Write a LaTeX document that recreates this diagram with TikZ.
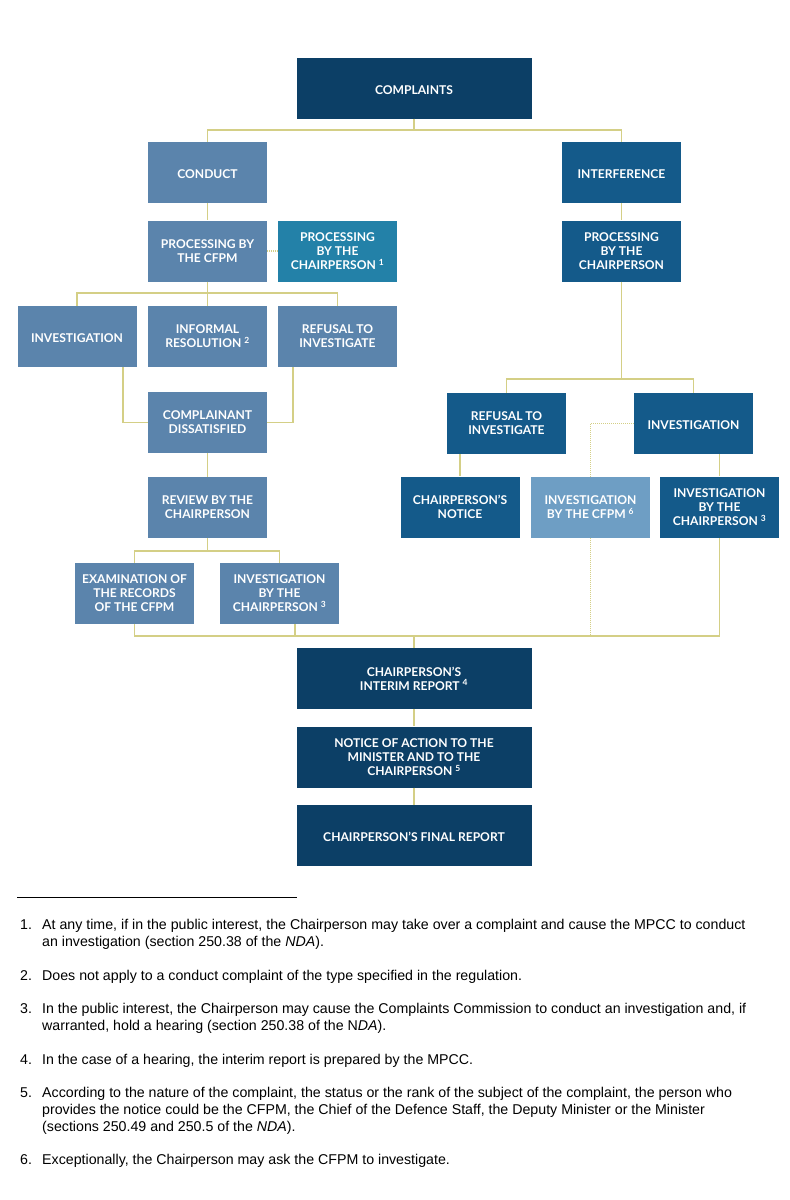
\documentclass[tikz,border=0pt]{standalone}
\usepackage{fontspec}
\setmainfont{Liberation Sans}
\newfontfamily\boxfont{Lato}
\definecolor{navy}{HTML}{0C3F66}
\definecolor{navytwo}{HTML}{145A8A}
\definecolor{steel}{HTML}{5B84AC}
\definecolor{teal}{HTML}{2381A8}
\definecolor{light}{HTML}{6E9EC4}
\definecolor{link}{HTML}{D4CF86}
\tikzset{
  box/.style={rectangle, minimum width=119pt, minimum height=61pt, inner sep=0pt,
    align=center, text=white, font=\boxfont\bfseries\fontsize{12.1}{14}\selectfont,
    execute at begin node={\rule{0pt}{12.7pt}}},
  wide/.style={box, minimum width=235pt},
  conn/.style={draw=link, line width=1.6pt},
  dots/.style={draw=link, line width=1.6pt, dash pattern=on 1pt off 1pt},
  fn/.style={anchor=base west, inner sep=0pt, font=\fontsize{14.2}{16}\selectfont}
}
\newcommand{\fnsup}[1]{\ \textsuperscript{#1}}
\begin{document}
\begin{tikzpicture}[x=1pt,y=-1pt]
\useasboundingbox (0,0) rectangle (790,1200);
\fill[white] (0,0) rectangle (790,1200);
% nodes
\node[wide, fill=navy] (complaints) at (414,88) {COMPLAINTS};
\node[box, fill=steel] (conduct) at (207.5,172.5) {CONDUCT};
\node[box, fill=navytwo] (interference) at (621.5,172.5) {INTERFERENCE};
\node[box, fill=steel] (procCFPM) at (207.5,251) {PROCESSING BY\\THE CFPM};
\node[box, fill=teal] (procChairL) at (337.5,251) {PROCESSING\\BY THE\\CHAIRPERSON\fnsup{1}};
\node[box, fill=navytwo] (procChairR) at (621.5,251) {PROCESSING\\BY THE\\CHAIRPERSON};
\node[box, fill=steel] (invL) at (77,336.5) {INVESTIGATION};
\node[box, fill=steel] (informal) at (207.5,336.5) {INFORMAL\\RESOLUTION\fnsup{2}};
\node[box, fill=steel] (refusalL) at (337.5,336.5) {REFUSAL TO\\INVESTIGATE};
\node[box, fill=steel] (dissat) at (207.5,422.5) {COMPLAINANT\\DISSATISFIED};
\node[box, fill=steel] (review) at (207.5,507.5) {REVIEW BY THE\\CHAIRPERSON};
\node[box, fill=steel] (exam) at (134.5,593.5) {EXAMINATION OF\\THE RECORDS\\OF THE CFPM};
\node[box, fill=steel] (invChairL) at (279.5,593.5) {INVESTIGATION\\BY THE\\CHAIRPERSON\fnsup{3}};
\node[box, fill=navytwo] (refusalR) at (506.5,423.5) {REFUSAL TO\\INVESTIGATE};
\node[box, fill=navytwo] (invR) at (693.5,423.5) {INVESTIGATION};
\node[box, fill=navytwo] (notice) at (460,507) {CHAIRPERSON’S\\NOTICE};
\node[box, fill=light] (invCFPM) at (590.5,507) {INVESTIGATION\\BY THE CFPM\fnsup{6}};
\node[box, fill=navytwo] (invChairR) at (719.5,507) {INVESTIGATION\\BY THE\\CHAIRPERSON\fnsup{3}};
\node[wide, fill=navy] (interim) at (414,678.5) {CHAIRPERSON’S\\INTERIM REPORT\fnsup{4}};
\node[wide, fill=navy] (action) at (414,757) {NOTICE OF ACTION TO THE\\MINISTER AND TO THE\\CHAIRPERSON\fnsup{5}};
\node[wide, fill=navy] (final) at (414,835.5) {CHAIRPERSON’S FINAL REPORT};
% junctions
\coordinate (j1) at (414,130);
\coordinate (j2) at (207.5,293);
\coordinate (j3) at (207.5,551);
\coordinate (j4) at (414,636);
\coordinate (j5) at (621.5,379);
% connectors
\draw[conn] (complaints.south) -- (j1);
\draw[conn] (conduct.north) |- (j1) -| (interference.north);
\draw[conn] (conduct.south) -- (procCFPM.north);
\draw[dots] (procCFPM.east) -- (procChairL.west);
\draw[conn] (interference.south) -- (procChairR.north);
\draw[conn] (procCFPM.south) -- (informal.north);
\draw[conn] (invL.north) |- (j2) -| (refusalL.north);
\draw[conn] ([xshift=46pt]invL.south) |- (dissat.west);
\draw[conn] ([xshift=-44.5pt]refusalL.south) |- (dissat.east);
\draw[conn] (dissat.south) -- (review.north);
\draw[conn] (review.south) -- (j3);
\draw[conn] (exam.north) |- (j3) -| (invChairL.north);
\draw[conn] (exam.south) |- (j4) -| (invChairR.south);
\draw[conn] ([xshift=15.5pt]invChairL.south) -- ([xshift=15.5pt]invChairL.south |- j4);
\draw[dots] (invCFPM.south) -- (invCFPM.south |- j4);
\draw[conn] (j4) -- (interim.north);
\draw[conn] (procChairR.south) -- (j5);
\draw[conn] (refusalR.north) |- (j5) -| (invR.north);
\draw[conn] (notice.north |- refusalR.south) -- (notice.north);
\draw[dots] (invR.west) -| (invCFPM.north);
\draw[conn] (invChairR.north |- invR.south) -- (invChairR.north);
\draw[conn] (interim.south) -- (action.north);
\draw[conn] (action.south) -- (final.north);
% footnotes
\coordinate (r0) at (17,897);
\coordinate (r1) at (297,897);
\draw[line width=1pt] (r0) -- (r1);
\node[fn] (n1) at (20,929) {1.};
\node[fn] (t1a) at (42,929) {At any time, if in the public interest, the Chairperson may take over a complaint and cause the MPCC to conduct};
\node[fn] (t1b) at (42,946) {an investigation (section 250.38 of the \textit{NDA}).};
\node[fn] (n2) at (20,980) {2.};
\node[fn] (t2a) at (42,980) {Does not apply to a conduct complaint of the type specified in the regulation.};
\node[fn] (n3) at (20,1013) {3.};
\node[fn] (t3a) at (42,1013) {In the public interest, the Chairperson may cause the Complaints Commission to conduct an investigation and, if};
\node[fn] (t3b) at (42,1030) {warranted, hold a hearing (section 250.38 of the N\textit{DA}).};
\node[fn] (n4) at (20,1064) {4.};
\node[fn] (t4a) at (42,1064) {In the case of a hearing, the interim report is prepared by the MPCC.};
\node[fn] (n5) at (20,1097) {5.};
\node[fn] (t5a) at (42,1097) {According to the nature of the complaint, the status or the rank of the subject of the complaint, the person who};
\node[fn] (t5b) at (42,1114) {provides the notice could be the CFPM, the Chief of the Defence Staff, the Deputy Minister or the Minister};
\node[fn] (t5c) at (42,1131) {(sections 250.49 and 250.5 of the \textit{NDA}).};
\node[fn] (n6) at (20,1164) {6.};
\node[fn] (t6a) at (42,1164) {Exceptionally, the Chairperson may ask the CFPM to investigate.};
\end{tikzpicture}
\end{document}
